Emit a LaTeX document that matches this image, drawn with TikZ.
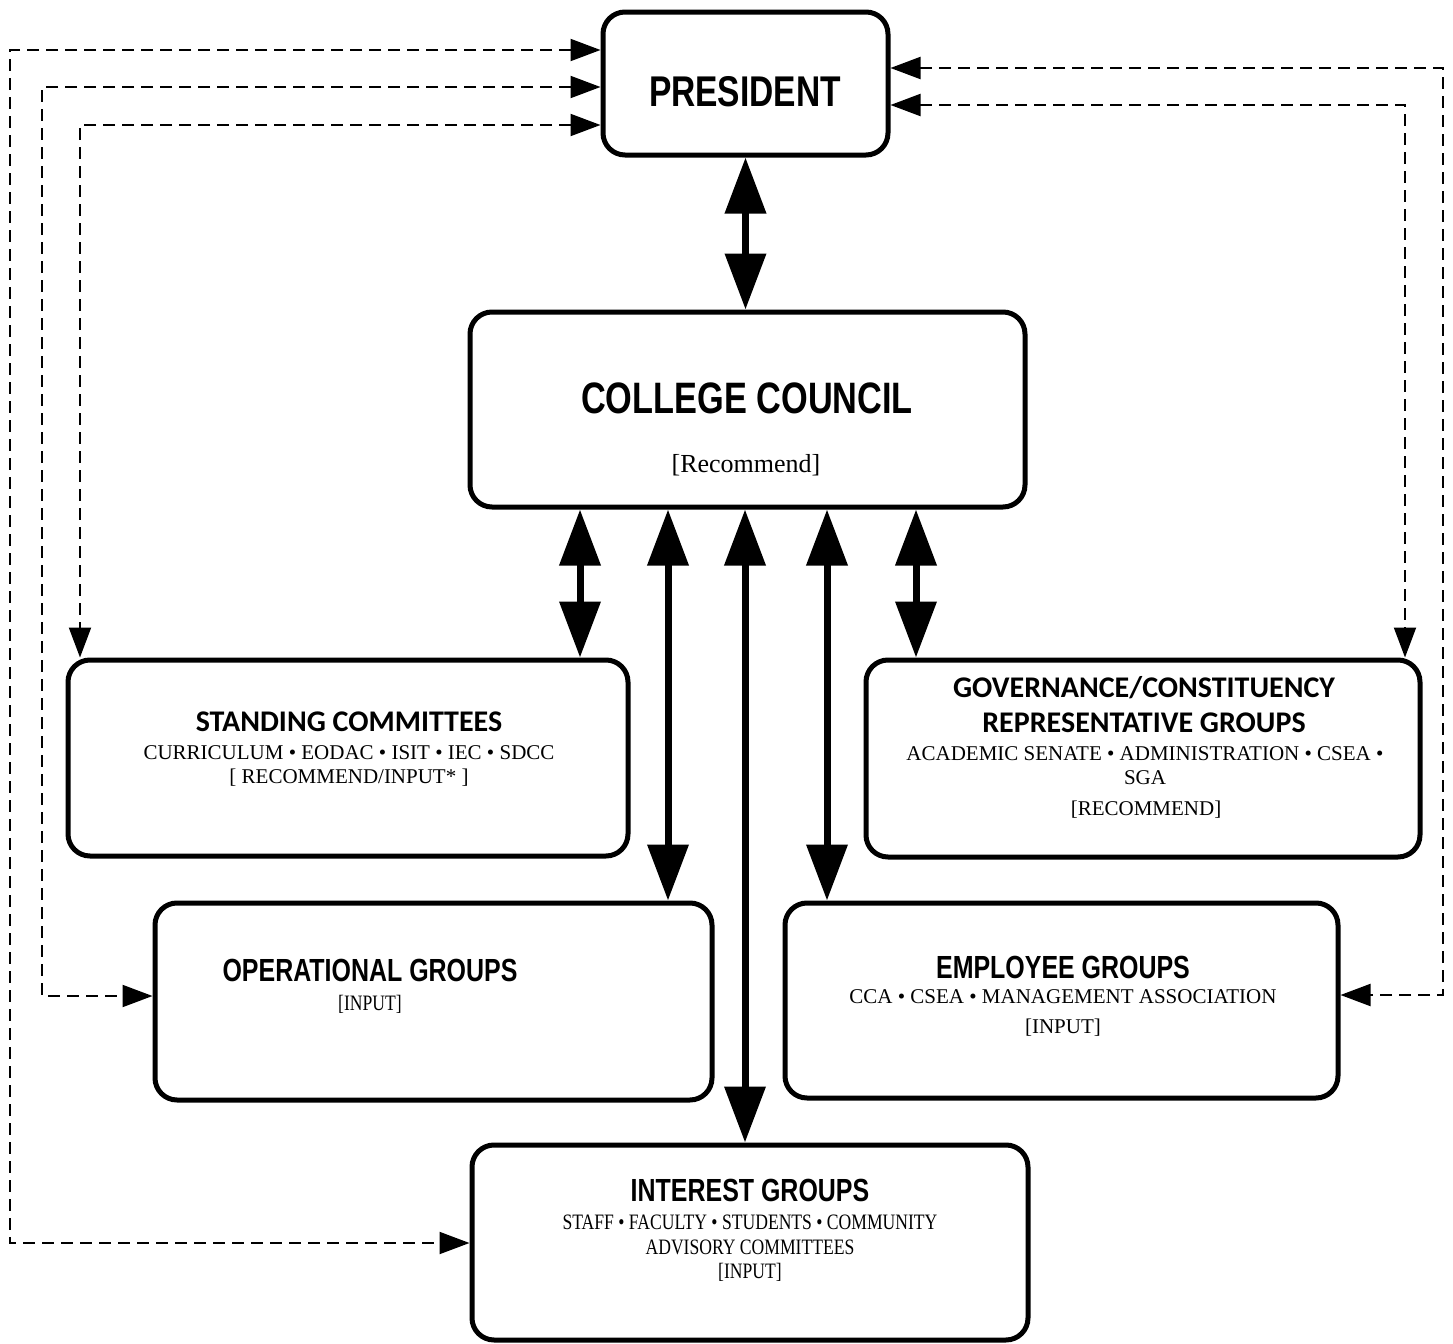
\documentclass[tikz,border=0pt]{standalone}
\usepackage{fontspec}
\setmainfont{Liberation Serif}
\newfontfamily\narrowsans[FakeStretch=0.78]{Liberation Sans}
\newfontfamily\narrowserif[FakeStretch=0.8]{Liberation Serif}
\newfontfamily\calibrisans{Carlito}
\usetikzlibrary{arrows.meta}
\tikzset{
  grpbox/.style={draw, line width=2.5pt, rounded corners=11pt, inner sep=0pt},
  bigarrow/.style={line width=3.5pt,
    {Triangle[length=28pt,width=20pt]}-{Triangle[length=28pt,width=20pt]}},
  dasharrow/.style={line width=1pt, dash pattern=on 6pt off 3.5pt,
    {Triangle[length=15pt,width=11pt]}-{Triangle[length=15pt,width=11pt]}},
  bigtitle/.style={inner sep=0pt, font=\narrowsans\bfseries\fontsize{22}{24}\selectfont},
  grptitle/.style={inner sep=0pt, font=\narrowsans\bfseries\fontsize{16}{18}\selectfont},
  cmtitle/.style={inner sep=0pt, font=\calibrisans\bfseries\fontsize{15}{17}\selectfont},
  member/.style={inner sep=0pt, font=\fontsize{10.5}{12}\selectfont},
  nmember/.style={inner sep=0pt, font=\narrowserif\fontsize{11}{12}\selectfont}
}
\begin{document}
\begin{tikzpicture}[x=0.5pt,y=-0.5pt]
\useasboundingbox (0,0) rectangle (1453,1344);
%% boxes
\node[grpbox, minimum width=142.5pt, minimum height=71.5pt] (pres) at (745.5,83.5) {};
\node[grpbox, minimum width=277.5pt, minimum height=97.5pt] (council) at (747.5,409.5) {};
\node[grpbox, minimum width=280pt, minimum height=98pt] (std) at (348,758) {};
\node[grpbox, minimum width=277pt, minimum height=98.5pt] (gov) at (1143,758.5) {};
\node[grpbox, minimum width=278.5pt, minimum height=98.5pt] (ops) at (433.5,1001.5) {};
\node[grpbox, minimum width=276.5pt, minimum height=97.5pt] (emp) at (1061.5,1000.5) {};
\node[grpbox, minimum width=278pt, minimum height=97.5pt] (intr) at (750,1242.5) {};
%% texts
\node[bigtitle, font=\narrowsans\bfseries\fontsize{21.5}{24}\selectfont] (presT) at (745,92) {PRESIDENT};
\node[bigtitle] (councilT) at (747,398) {COLLEGE COUNCIL};
\node[member, font=\fontsize{13}{15}\selectfont] (councilR) at (746,465) {[Recommend]};
\node[cmtitle] (stdT) at (349,722) {STANDING COMMITTEES};
\node[member] (stdA) at (349,753) {CURRICULUM • EODAC • ISIT • IEC • SDCC};
\node[member] (stdB) at (349,778) {[ RECOMMEND/INPUT* ]};
\node[cmtitle] (govT) at (1144,688) {GOVERNANCE/CONSTITUENCY};
\node[cmtitle] (govU) at (1144,723) {REPRESENTATIVE GROUPS};
\node[member] (govA) at (1145,754) {ACADEMIC SENATE • ADMINISTRATION • CSEA •};
\node[member] (govB) at (1145,778) {SGA};
\node[member] (govR) at (1146,810) {[RECOMMEND]};
\node[grptitle] (opsT) at (370,970) {OPERATIONAL GROUPS};
\node[nmember] (opsR) at (370,1004) {[INPUT]};
\node[grptitle] (empT) at (1063,967) {EMPLOYEE GROUPS};
\node[member] (empA) at (1063,997) {CCA • CSEA • MANAGEMENT ASSOCIATION};
\node[member] (empR) at (1063,1028) {[INPUT]};
\node[grptitle] (intrT) at (750,1190) {INTEREST GROUPS};
\node[nmember] (intrA) at (750,1222) {STAFF • FACULTY • STUDENTS • COMMUNITY};
\node[nmember] (intrB) at (750,1247) {ADVISORY COMMITTEES};
\node[nmember] (intrR) at (750,1272) {[INPUT]};
%% solid links
\draw[bigarrow] (pres.south) -- (pres.south |- council.north);
\draw[bigarrow] (580,0 |- council.south) -- (580,0 |- std.north);
\draw[bigarrow] (668,0 |- council.south) -- (668,0 |- ops.north);
\draw[bigarrow] (745,0 |- council.south) -- (745,0 |- intr.north);
\draw[bigarrow] (827,0 |- council.south) -- (827,0 |- emp.north);
\draw[bigarrow] (916,0 |- council.south) -- (916,0 |- gov.north);
%% dashed links
\draw[dasharrow] (pres.west |- 0,50) -- (10,50) -- (10,1243) -- (intr.west |- 0,1243);
\draw[dasharrow] (pres.west |- 0,87) -- (42,87) -- (42,996) -- (ops.west |- 0,996);
\draw[dasharrow] (pres.west |- 0,125) -- (80,125) -- (80,0 |- std.north);
\draw[dasharrow] (pres.east |- 0,68) -- (1443,68) -- (1443,995) -- (emp.east |- 0,995);
\draw[dasharrow] (pres.east |- 0,105) -- (1405,105) -- (1405,0 |- gov.north);
\end{tikzpicture}
\end{document}
